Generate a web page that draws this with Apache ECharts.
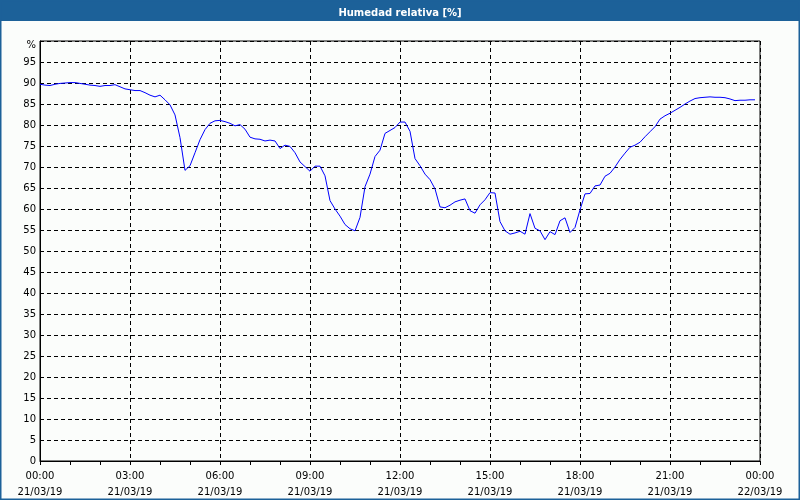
<!DOCTYPE html>
<html>
<head>
<meta charset="utf-8">
<script src="https://cdn.jsdelivr.net/npm/echarts@6/dist/echarts.min.js"></script>
<style>
html,body{margin:0;padding:0;background:#fbfdfb;}
#c{width:800px;height:500px;}
</style>
</head>
<body>
<div id="c"></div>
<script>
// Minutes from 00:00 21/03/19
var minutes = [0,10,20,30,40,50,60,70,80,90,100,110,120,130,140,150,160,170,180,190,200,210,220,230,240,250,260,270,280,290,300,310,320,330,340,350,360,370,380,390,400,410,420,430,440,450,460,470,480,490,500,510,520,530,540,550,560,570,580,590,600,610,620,630,640,650,660,670,680,690,700,710,720,730,740,750,760,770,780,790,800,810,820,830,840,850,860,870,880,890,900,910,920,930,940,950,960,970,980,990,1000,1010,1020,1030,1040,1050,1060,1070,1080,1090,1100,1110,1120,1130,1140,1150,1160,1170,1180,1190,1200,1210,1220,1230,1240,1250,1260,1270,1280,1290,1300,1310,1320,1330,1340,1350,1360,1370,1380,1390,1400,1410,1420,1430];
// Relative humidity (%)
var humidity = [89.7,89.5,89.4,89.7,89.9,90.0,90.1,90.1,89.9,89.7,89.5,89.4,89.2,89.4,89.4,89.6,89.1,88.6,88.4,88.2,88.2,87.7,87.1,86.7,87.1,86.0,84.8,82.4,77.0,69.2,70.3,73.4,76.5,78.9,80.4,81.0,81.1,80.8,80.4,79.8,80.1,79.0,77.1,76.7,76.6,76.2,76.4,76.2,74.4,75.2,74.9,73.4,71.2,70.1,69.0,70.2,70.2,67.9,62.0,60.0,58.3,56.3,55.3,54.8,58.0,65.3,68.3,72.5,74.0,78.0,78.7,79.4,80.7,80.7,78.5,72.0,70.3,68.3,67.0,64.8,60.5,60.3,60.9,61.7,62.1,62.4,59.6,59.0,61.0,62.2,63.9,63.8,57.0,54.8,54.0,54.3,54.7,54.0,58.9,55.4,54.8,52.7,54.6,53.9,57.2,57.9,54.4,55.6,59.8,63.6,63.7,65.5,65.7,67.8,68.5,70.0,71.8,73.3,74.7,75.2,75.9,77.2,78.4,79.6,81.4,82.2,82.8,83.5,84.2,85.0,85.7,86.3,86.5,86.6,86.7,86.6,86.6,86.5,86.2,85.8,85.9,85.9,86.0,86.0];
var titleText = 'Humedad relativa [%]';
var dateStart = '21/03/19';
var dateEnd = '22/03/19';

var seriesData = minutes.map(function(m, i){ return [m, humidity[i]]; });
var FONT = 'DejaVu Sans';

var chart = echarts.init(document.getElementById('c'), null, {renderer:'canvas'});
chart.setOption({
  backgroundColor: '#fbfdfb',
  animation: false,
  title: {
    text: titleText,
    left: 'center',
    top: 3,
    textStyle: {color:'#ffffff', fontFamily: FONT, fontSize: 10, fontWeight:'bold'}
  },
  graphic: [
    {type:'rect', z:-1, shape:{x:0,y:0,width:800,height:21}, style:{fill:'#1c6199'}},
    {type:'rect', z:100, shape:{x:0.5,y:0.5,width:799,height:499}, style:{fill:'none', stroke:'#1c6199', lineWidth:2}}
  ],
  grid: {left:40, right:40, top:41, bottom:39, show:true, borderColor:'#000', borderWidth:1, backgroundColor:'transparent'},
  xAxis: {
    type:'value', min:0, max:1440, interval:180,
    axisLine:{show:true, lineStyle:{color:'#000', width:1}},
    axisTick:{show:true, length:4, lineStyle:{color:'#000'}},
    minorTick:{show:true, splitNumber:3, length:4, lineStyle:{color:'#000'}},
    splitLine:{show:true, lineStyle:{color:'#000', type:[4,3], width:1}},
    axisLabel:{
      color:'#000', fontFamily:FONT, fontSize:10, lineHeight:16, margin:7,
      formatter:function(v){
        var h = Math.floor(v/60)%24;
        var hh = (h<10?'0':'')+h+':00';
        return hh + '\n' + (v>=1440 ? dateEnd : dateStart);
      }
    }
  },
  yAxis: {
    type:'value', min:0, max:100, interval:5,
    axisLine:{show:true, lineStyle:{color:'#000', width:1}},
    axisTick:{show:false},
    splitLine:{show:true, lineStyle:{color:'#000', type:[4,3], width:1}},
    axisLabel:{
      color:'#000', fontFamily:FONT, fontSize:10, margin:4,
      formatter:function(v){ return v===100 ? '{p|%}' : String(v); },
      rich:{p:{fontFamily:FONT, fontSize:10, color:'#000', padding:[8,0,0,0]}}
    }
  },
  series: [{
    type:'line', data:seriesData, showSymbol:false, smooth:false,
    lineStyle:{color:'#0000ff', width:1}, itemStyle:{color:'#0000ff'}
  }]
});
</script>
</body>
</html>
